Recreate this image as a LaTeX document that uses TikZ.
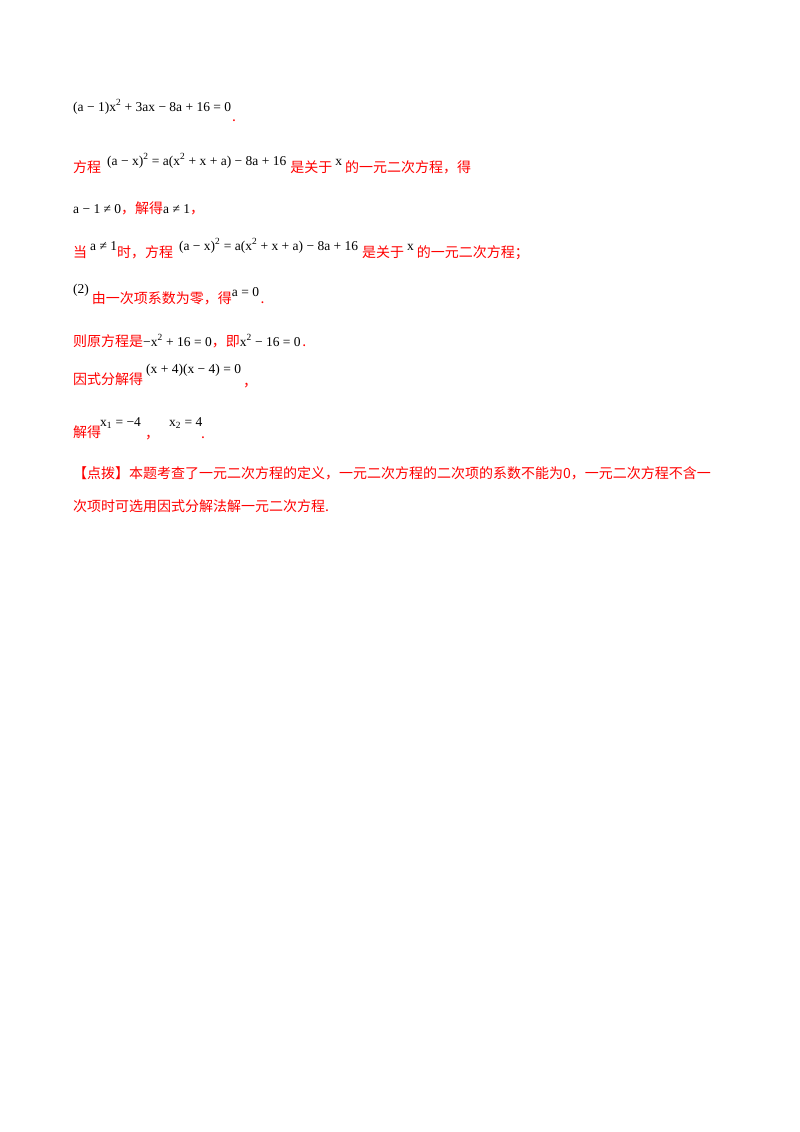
\documentclass[tikz,border=0pt]{standalone}
\usepackage{fontspec}
\setmainfont{Liberation Serif}
\newfontfamily\cjk{Noto Sans CJK SC}
\definecolor{rd}{RGB}{255,0,0}
\newcommand{\R}[1]{{\color{rd}\cjk\fontsize{14}{16}\selectfont #1}}
\newcommand{\M}[1]{{\color{black}\fontsize{13.5}{16}\selectfont #1}}
\newcommand{\U}[1]{\raisebox{7pt}{\M{#1}}}
\newcommand{\sq}{\textsuperscript{2}}
\begin{document}
\begin{tikzpicture}[x=1pt,y=-1pt,every node/.style={anchor=base west,inner sep=0pt}]
\fill[white] (0,0) rectangle (800,1132);
\useasboundingbox (0,0) rectangle (800,1132);
\node (l1) at (73,111) {\M{(a − 1)x\sq{} + 3ax − 8a + 16 = 0}};
\node (d1) at (232,121) {\R{.}};
\node (l2) at (73,172) {\R{方程}\hspace{6pt}\U{(a − x)\sq{} = a(x\sq{} + x + a) − 8a + 16}\hspace{4pt}\R{是关于}\hspace{3pt}\U{x}\hspace{3pt}\R{的一元二次方程，得}};
\node (l3) at (73,213) {\M{a − 1 ≠ 0}\R{，解得}\M{a ≠ 1}\R{，}};
\node (l4) at (73,257) {\R{当}\hspace{3pt}\U{a ≠ 1}\R{时，方程}\hspace{6pt}\U{(a − x)\sq{} = a(x\sq{} + x + a) − 8a + 16}\hspace{4pt}\R{是关于}\hspace{3pt}\U{x}\hspace{3pt}\R{的一元二次方程；}};
\node (l5) at (73,303) {\raisebox{10pt}{\M{(2)}}\hspace{3pt}\R{由一次项系数为零，得}\U{a = 0}\,\R{.}};
\node (l6) at (73,346) {\R{则原方程是}\M{−x\sq{} + 16 = 0}\R{，即}\M{x\sq{} − 16 = 0}\,\R{.}};
\node (l7) at (73,384) {\R{因式分解得}\hspace{3pt}\raisebox{11pt}{\M{(x + 4)(x − 4) = 0}}};
\node (c7) at (243,386) {\R{，}};
\node (l8) at (73,437) {\R{解得}};
\node (x1) at (100,426) {\M{x\textsubscript{1} = −4}};
\node (c8) at (145,438) {\R{，}};
\node (x2) at (169,426) {\M{x\textsubscript{2} = 4}};
\node (p8) at (201,438) {\R{.}};
\node (l9) at (73,478) {\R{【点拨】本题考查了一元二次方程的定义，一元二次方程的二次项的系数不能为0，一元二次方程不含一}};
\node (l10) at (73,511) {\R{次项时可选用因式分解法解一元二次方程.}};
\end{tikzpicture}
\end{document}
